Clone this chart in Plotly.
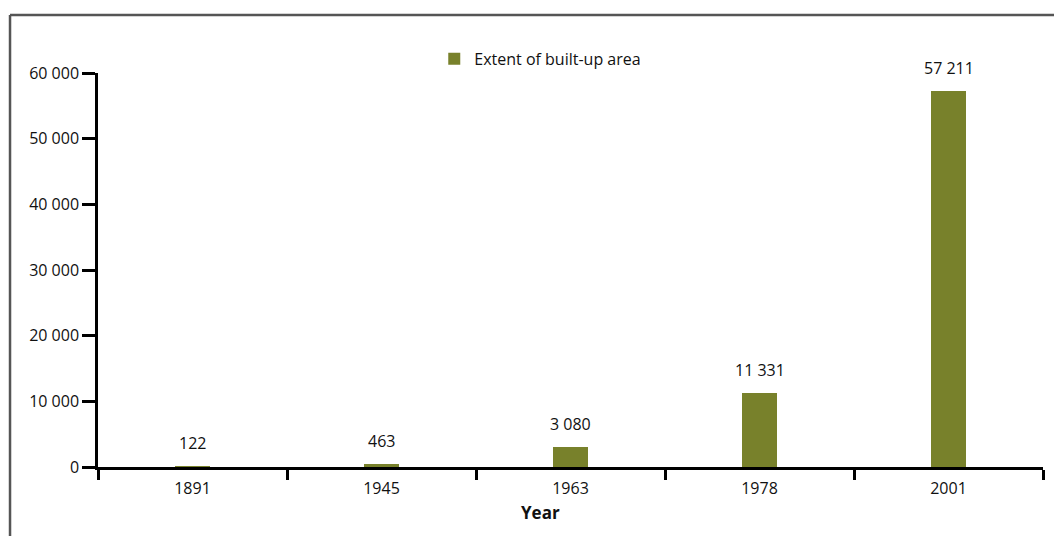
import plotly.graph_objects as go

# Built-up area by survey year
years = ["1891", "1945", "1963", "1978", "2001"]
built_up_area = [122, 463, 3080, 11331, 57211]
y_ticks = [0, 10000, 20000, 30000, 40000, 50000, 60000]

BAR_COLOR = "#78812b"
FONT = "Open Sans"
TXT = "#111111"


def fmt(v):
    return f"{v:,}".replace(",", " ")


fig = go.Figure()
fig.add_trace(go.Bar(
    x=years,
    y=built_up_area,
    name="Extent of built-up area",
    marker=dict(color=BAR_COLOR, line=dict(width=0)),
    width=0.185,
    showlegend=True,
))

# value labels above each bar (category index positions)
for i, v in enumerate(built_up_area):
    fig.add_annotation(
        x=i, y=v, text=fmt(v), showarrow=False,
        yanchor="bottom", yshift=10,
        font=dict(family=FONT, size=16, color=TXT),
    )

# axis title
fig.add_annotation(
    xref="paper", yref="paper", x=0.468, y=-0.115,
    text="<b>Year</b>", showarrow=False, yanchor="middle",
    font=dict(family=FONT, size=17, color=TXT),
)

# outer frame (left and top edges)
frame = dict(color="#555555", width=2.5)
fig.add_shape(type="line", xref="paper", yref="paper",
              x0=-0.0931, x1=-0.0931, y0=1.147, y1=-0.2, line=frame)
fig.add_shape(type="line", xref="paper", yref="paper",
              x0=-0.0931, x1=1.02, y0=1.147, y1=1.147, line=frame)

fig.update_layout(
    width=1054,
    height=536,
    margin=dict(l=98, r=11, t=73, b=69),
    plot_bgcolor="white",
    paper_bgcolor="white",
    separators=". ",
    font=dict(family=FONT, size=16, color=TXT),
    legend=dict(
        orientation="h",
        x=0.468, y=1.036, xanchor="center", yanchor="middle",
        font=dict(family=FONT, size=16, color=TXT),
        bgcolor="rgba(0,0,0,0)",
    ),
    xaxis=dict(
        type="category",
        range=[-0.5, len(years) - 0.5],
        showline=True, linecolor="black", linewidth=2.5,
        ticks="outside", tickson="boundaries", ticklen=10,
        tickwidth=2.5, tickcolor="black",
        showgrid=False, zeroline=False,
        tickangle=0,
        ticklabelstandoff=5,
        tickfont=dict(family=FONT, size=16, color=TXT),
    ),
    yaxis=dict(
        range=[0, 60000],
        tickvals=y_ticks,
        ticktext=[fmt(t) for t in y_ticks],
        showline=True, linecolor="black", linewidth=2.5,
        ticks="outside", ticklen=13, tickwidth=2.5, tickcolor="black",
        showgrid=False, zeroline=False,
        tickfont=dict(family=FONT, size=16, color=TXT),
    ),
    bargap=0.0,
)

fig.write_html("out.html")
